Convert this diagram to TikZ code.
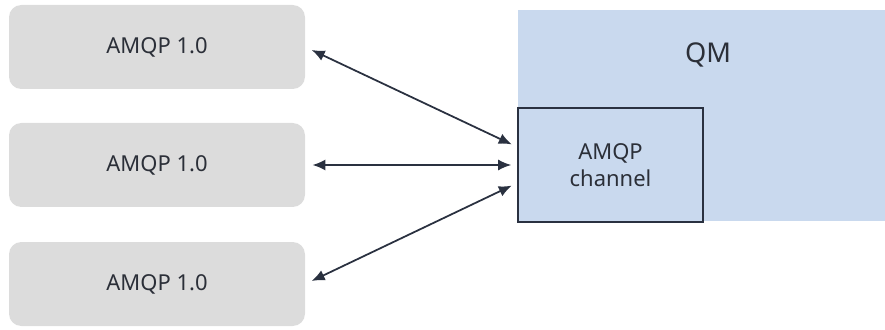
\documentclass[tikz,border=0pt]{standalone}
\usepackage{fontspec}
\setmainfont{Noto Sans}
\usetikzlibrary{arrows.meta}
\definecolor{clientgray}{HTML}{DCDCDC}
\definecolor{qmblue}{HTML}{C9D9EE}
\definecolor{edgedark}{HTML}{2A3140}
\definecolor{textdark}{HTML}{2B2F38}
\begin{document}
\begin{tikzpicture}[
    client/.style={fill=clientgray, rounded corners=7pt, minimum width=5.92cm,
        minimum height=1.68cm, font=\fontsize{12.5}{14}\selectfont, text=textdark},
    channel/.style={draw=edgedark, fill=qmblue, line width=0.9pt, minimum width=3.7cm,
        minimum height=2.28cm, align=center, font=\fontsize{12.5}{15}\selectfont, text=textdark},
    link/.style={edgedark, line width=1pt, {Latex[length=2.6mm,width=2.2mm]}-{Latex[length=2.6mm,width=2.2mm]},
        shorten <=0.14cm, shorten >=0.12cm}
]
\useasboundingbox (0,0) rectangle (17.7,6.58);

% Queue manager
\fill[qmblue] (10.36,2.16) rectangle (17.7,6.38);
\node[font=\fontsize{15.5}{18}\selectfont, text=textdark] (qm) at (14.16,5.48) {QM};

% AMQP channel
\node[channel] (chan) at (12.21,3.28) {AMQP\\channel};

% Clients
\node[client] (c1) at (3.14,5.64) {AMQP 1.0};
\node[client] (c2) at (3.14,3.28) {AMQP 1.0};
\node[client] (c3) at (3.14,0.90) {AMQP 1.0};

% Links
\draw[link] (c1.east) -- ([yshift=0.36cm]chan.west);
\draw[link] (c2.east) -- (chan.west);
\draw[link] (c3.east) -- ([yshift=-0.36cm]chan.west);

\end{tikzpicture}
\end{document}
